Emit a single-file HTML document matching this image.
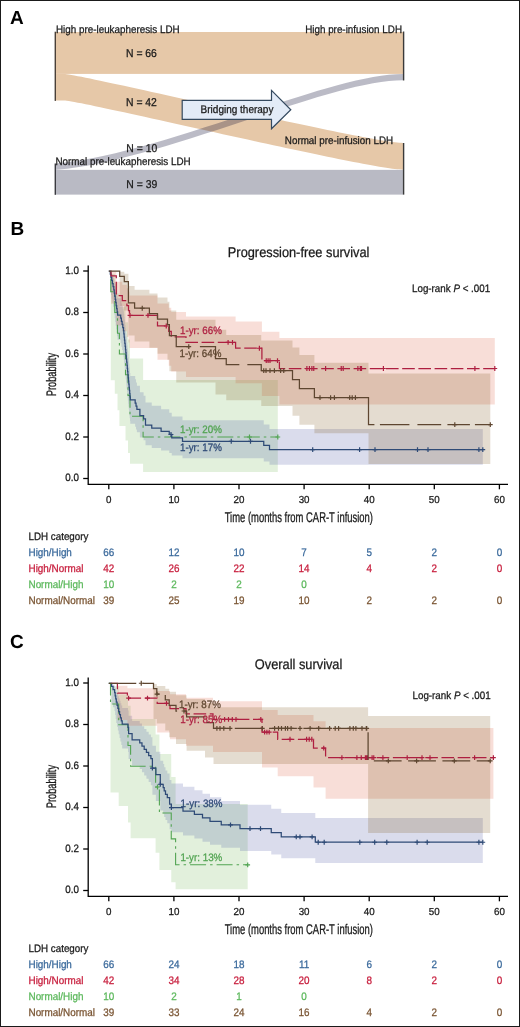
<!DOCTYPE html>
<html><head><meta charset="utf-8"><style>
html,body{margin:0;padding:0;background:#fff;}
body{width:520px;height:1027px;overflow:hidden;}
svg{display:block;will-change:transform;}
text{font-family:"Liberation Sans",sans-serif;text-rendering:geometricPrecision;}
</style></head><body>
<svg width="520" height="1027" viewBox="0 0 520 1027">
<rect x="0" y="0" width="520" height="1027" fill="#fff"/>
<rect x="56" y="32.0" width="347" height="41.91" fill="#e6c8a8"/>
<path d="M56,73.91 L64,73.91 C81,73.91 369,143.0 403,143.0 L403,169.67 C369,169.67 81,100.58 64,100.58 L56,100.58 Z" fill="#e6c8a8"/>
<rect x="56" y="169.85" width="347" height="24.77" fill="#b9bac4"/>
<path d="M56,163.50 C168,152.90 328,73.91 403,73.91 L403,80.26 C328,80.26 168,159.25 56,169.85 Z" fill="rgb(9,12,51)" fill-opacity="0.28"/>
<path d="M182.2,100.3 L271.5,100.3 L271.5,90.4 L290.8,109.8 L271.5,128.8 L271.5,119.4 L182.2,119.4 Z" fill="#e3ebf7" stroke="#34495f" stroke-width="1.2"/>
<text transform="translate(200.60,112.80) scale(1.0,1.1)" font-size="10" fill="#1a1a1a" stroke="#1a1a1a" stroke-width="0.25">Bridging therapy</text>
<rect x="54.6" y="31.7" width="1.4" height="69.18" fill="#4a4038"/>
<rect x="54.6" y="163.50" width="1.4" height="31.32" fill="#3a3a40"/>
<rect x="402.9" y="31.5" width="1.4" height="48.96" fill="#3a3a3a"/>
<rect x="402.9" y="143.00" width="1.4" height="51.64" fill="#3a3a3a"/>
<text transform="translate(56.00,32.60) scale(1.0,1.1)" font-size="9.85" fill="#1a1a1a" stroke="#1a1a1a" stroke-width="0.25">High pre-leukapheresis LDH</text>
<text transform="translate(402.00,33.00) scale(1.0,1.1)" font-size="9.85" fill="#1a1a1a" text-anchor="end" stroke="#1a1a1a" stroke-width="0.25">High pre-infusion LDH</text>
<text transform="translate(284.80,143.80) scale(1.0,1.1)" font-size="9.85" fill="#1a1a1a" stroke="#1a1a1a" stroke-width="0.25">Normal pre-infusion LDH</text>
<text transform="translate(55.50,164.60) scale(1.0,1.1)" font-size="9.85" fill="#1a1a1a" stroke="#1a1a1a" stroke-width="0.25">Normal pre-leukapheresis LDH</text>
<text transform="translate(126.00,56.60) scale(1.0,1.1)" font-size="10.4" fill="#1a1a1a" stroke="#1a1a1a" stroke-width="0.25">N = 66</text>
<text transform="translate(126.00,106.30) scale(1.0,1.1)" font-size="10.4" fill="#1a1a1a" stroke="#1a1a1a" stroke-width="0.25">N = 42</text>
<text transform="translate(126.30,151.80) scale(1.0,1.1)" font-size="10.4" fill="#1a1a1a" stroke="#1a1a1a" stroke-width="0.25">N = 10</text>
<text transform="translate(126.30,187.50) scale(1.0,1.1)" font-size="10.4" fill="#1a1a1a" stroke="#1a1a1a" stroke-width="0.25">N = 39</text>
<text transform="translate(10.00,24.00)" font-size="19" fill="#000" font-weight="bold">A</text>
<text transform="translate(10.40,235.00)" font-size="19" fill="#000" font-weight="bold">B</text>
<text transform="translate(10.00,648.00)" font-size="19" fill="#000" font-weight="bold">C</text>
<g><path d="M88.2,265.4 L88.2,484.3 L508,484.3" fill="none" stroke="#000" stroke-width="1.3"/><line x1="83.2" y1="478.50" x2="88.2" y2="478.50" stroke="#000" stroke-width="1.3"/><text transform="translate(78.90,481.35) scale(1.0,1.1)" font-size="9.8" fill="#1a1a1a" text-anchor="end" stroke="#1a1a1a" stroke-width="0.25">0.0</text><line x1="83.2" y1="437.00" x2="88.2" y2="437.00" stroke="#000" stroke-width="1.3"/><text transform="translate(78.90,439.85) scale(1.0,1.1)" font-size="9.8" fill="#1a1a1a" text-anchor="end" stroke="#1a1a1a" stroke-width="0.25">0.2</text><line x1="83.2" y1="395.50" x2="88.2" y2="395.50" stroke="#000" stroke-width="1.3"/><text transform="translate(78.90,398.35) scale(1.0,1.1)" font-size="9.8" fill="#1a1a1a" text-anchor="end" stroke="#1a1a1a" stroke-width="0.25">0.4</text><line x1="83.2" y1="354.00" x2="88.2" y2="354.00" stroke="#000" stroke-width="1.3"/><text transform="translate(78.90,356.85) scale(1.0,1.1)" font-size="9.8" fill="#1a1a1a" text-anchor="end" stroke="#1a1a1a" stroke-width="0.25">0.6</text><line x1="83.2" y1="312.50" x2="88.2" y2="312.50" stroke="#000" stroke-width="1.3"/><text transform="translate(78.90,315.35) scale(1.0,1.1)" font-size="9.8" fill="#1a1a1a" text-anchor="end" stroke="#1a1a1a" stroke-width="0.25">0.8</text><line x1="83.2" y1="271.00" x2="88.2" y2="271.00" stroke="#000" stroke-width="1.3"/><text transform="translate(78.90,273.85) scale(1.0,1.1)" font-size="9.8" fill="#1a1a1a" text-anchor="end" stroke="#1a1a1a" stroke-width="0.25">1.0</text><line x1="108.80" y1="484.3" x2="108.80" y2="489.3" stroke="#000" stroke-width="1.3"/><text transform="translate(108.80,503.40) scale(1.0,1.03)" font-size="9.8" fill="#1a1a1a" text-anchor="middle" stroke="#1a1a1a" stroke-width="0.25">0</text><line x1="173.90" y1="484.3" x2="173.90" y2="489.3" stroke="#000" stroke-width="1.3"/><text transform="translate(173.90,503.40) scale(1.0,1.03)" font-size="9.8" fill="#1a1a1a" text-anchor="middle" stroke="#1a1a1a" stroke-width="0.25">10</text><line x1="239.00" y1="484.3" x2="239.00" y2="489.3" stroke="#000" stroke-width="1.3"/><text transform="translate(239.00,503.40) scale(1.0,1.03)" font-size="9.8" fill="#1a1a1a" text-anchor="middle" stroke="#1a1a1a" stroke-width="0.25">20</text><line x1="304.10" y1="484.3" x2="304.10" y2="489.3" stroke="#000" stroke-width="1.3"/><text transform="translate(304.10,503.40) scale(1.0,1.03)" font-size="9.8" fill="#1a1a1a" text-anchor="middle" stroke="#1a1a1a" stroke-width="0.25">30</text><line x1="369.20" y1="484.3" x2="369.20" y2="489.3" stroke="#000" stroke-width="1.3"/><text transform="translate(369.20,503.40) scale(1.0,1.03)" font-size="9.8" fill="#1a1a1a" text-anchor="middle" stroke="#1a1a1a" stroke-width="0.25">40</text><line x1="434.30" y1="484.3" x2="434.30" y2="489.3" stroke="#000" stroke-width="1.3"/><text transform="translate(434.30,503.40) scale(1.0,1.03)" font-size="9.8" fill="#1a1a1a" text-anchor="middle" stroke="#1a1a1a" stroke-width="0.25">50</text><line x1="499.40" y1="484.3" x2="499.40" y2="489.3" stroke="#000" stroke-width="1.3"/><text transform="translate(499.40,503.40) scale(1.0,1.03)" font-size="9.8" fill="#1a1a1a" text-anchor="middle" stroke="#1a1a1a" stroke-width="0.25">60</text><text transform="translate(298.60,256.60) scale(1.0,1.1)" font-size="12.8" fill="#1a1a1a" text-anchor="middle" stroke="#1a1a1a" stroke-width="0.25">Progression-free survival</text><text transform="translate(298.80,521.60) scale(0.669,1.0)" font-size="14.1" fill="#1a1a1a" text-anchor="middle" stroke="#1a1a1a" stroke-width="0.3">Time (months from CAR-T infusion)</text><text transform="translate(56.00,374.60) rotate(-90) scale(0.672,1.0)" font-size="13.8" fill="#1a1a1a" text-anchor="middle" stroke="#1a1a1a" stroke-width="0.3">Probability</text><text transform="translate(28.50,539.60) scale(1.0,1.1)" font-size="9.8" fill="#1a1a1a" stroke="#1a1a1a" stroke-width="0.25">LDH category</text><text transform="translate(28.50,555.70) scale(1.0,1.1)" font-size="9.9" fill="#3b6a9c" stroke="#3b6a9c" stroke-width="0.25">High/High</text><text transform="translate(108.80,555.70) scale(1.0,1.1)" font-size="9.9" fill="#3b6a9c" text-anchor="middle" stroke="#3b6a9c" stroke-width="0.25">66</text><text transform="translate(173.90,555.70) scale(1.0,1.1)" font-size="9.9" fill="#3b6a9c" text-anchor="middle" stroke="#3b6a9c" stroke-width="0.25">12</text><text transform="translate(239.00,555.70) scale(1.0,1.1)" font-size="9.9" fill="#3b6a9c" text-anchor="middle" stroke="#3b6a9c" stroke-width="0.25">10</text><text transform="translate(304.10,555.70) scale(1.0,1.1)" font-size="9.9" fill="#3b6a9c" text-anchor="middle" stroke="#3b6a9c" stroke-width="0.25">7</text><text transform="translate(369.20,555.70) scale(1.0,1.1)" font-size="9.9" fill="#3b6a9c" text-anchor="middle" stroke="#3b6a9c" stroke-width="0.25">5</text><text transform="translate(434.30,555.70) scale(1.0,1.1)" font-size="9.9" fill="#3b6a9c" text-anchor="middle" stroke="#3b6a9c" stroke-width="0.25">2</text><text transform="translate(499.40,555.70) scale(1.0,1.1)" font-size="9.9" fill="#3b6a9c" text-anchor="middle" stroke="#3b6a9c" stroke-width="0.25">0</text><text transform="translate(28.50,571.90) scale(1.0,1.1)" font-size="9.9" fill="#c8203f" stroke="#c8203f" stroke-width="0.25">High/Normal</text><text transform="translate(108.80,571.90) scale(1.0,1.1)" font-size="9.9" fill="#c8203f" text-anchor="middle" stroke="#c8203f" stroke-width="0.25">42</text><text transform="translate(173.90,571.90) scale(1.0,1.1)" font-size="9.9" fill="#c8203f" text-anchor="middle" stroke="#c8203f" stroke-width="0.25">26</text><text transform="translate(239.00,571.90) scale(1.0,1.1)" font-size="9.9" fill="#c8203f" text-anchor="middle" stroke="#c8203f" stroke-width="0.25">22</text><text transform="translate(304.10,571.90) scale(1.0,1.1)" font-size="9.9" fill="#c8203f" text-anchor="middle" stroke="#c8203f" stroke-width="0.25">14</text><text transform="translate(369.20,571.90) scale(1.0,1.1)" font-size="9.9" fill="#c8203f" text-anchor="middle" stroke="#c8203f" stroke-width="0.25">4</text><text transform="translate(434.30,571.90) scale(1.0,1.1)" font-size="9.9" fill="#c8203f" text-anchor="middle" stroke="#c8203f" stroke-width="0.25">2</text><text transform="translate(499.40,571.90) scale(1.0,1.1)" font-size="9.9" fill="#c8203f" text-anchor="middle" stroke="#c8203f" stroke-width="0.25">0</text><text transform="translate(28.50,588.10) scale(1.0,1.1)" font-size="9.9" fill="#5cb85c" stroke="#5cb85c" stroke-width="0.25">Normal/High</text><text transform="translate(108.80,588.10) scale(1.0,1.1)" font-size="9.9" fill="#5cb85c" text-anchor="middle" stroke="#5cb85c" stroke-width="0.25">10</text><text transform="translate(173.90,588.10) scale(1.0,1.1)" font-size="9.9" fill="#5cb85c" text-anchor="middle" stroke="#5cb85c" stroke-width="0.25">2</text><text transform="translate(239.00,588.10) scale(1.0,1.1)" font-size="9.9" fill="#5cb85c" text-anchor="middle" stroke="#5cb85c" stroke-width="0.25">2</text><text transform="translate(304.10,588.10) scale(1.0,1.1)" font-size="9.9" fill="#5cb85c" text-anchor="middle" stroke="#5cb85c" stroke-width="0.25">0</text><text transform="translate(28.50,604.30) scale(1.0,1.1)" font-size="9.9" fill="#7a5533" stroke="#7a5533" stroke-width="0.25">Normal/Normal</text><text transform="translate(108.80,604.30) scale(1.0,1.1)" font-size="9.9" fill="#7a5533" text-anchor="middle" stroke="#7a5533" stroke-width="0.25">39</text><text transform="translate(173.90,604.30) scale(1.0,1.1)" font-size="9.9" fill="#7a5533" text-anchor="middle" stroke="#7a5533" stroke-width="0.25">25</text><text transform="translate(239.00,604.30) scale(1.0,1.1)" font-size="9.9" fill="#7a5533" text-anchor="middle" stroke="#7a5533" stroke-width="0.25">19</text><text transform="translate(304.10,604.30) scale(1.0,1.1)" font-size="9.9" fill="#7a5533" text-anchor="middle" stroke="#7a5533" stroke-width="0.25">10</text><text transform="translate(369.20,604.30) scale(1.0,1.1)" font-size="9.9" fill="#7a5533" text-anchor="middle" stroke="#7a5533" stroke-width="0.25">2</text><text transform="translate(434.30,604.30) scale(1.0,1.1)" font-size="9.9" fill="#7a5533" text-anchor="middle" stroke="#7a5533" stroke-width="0.25">2</text><text transform="translate(499.40,604.30) scale(1.0,1.1)" font-size="9.9" fill="#7a5533" text-anchor="middle" stroke="#7a5533" stroke-width="0.25">0</text></g>
<g><path d="M88.2,677.4 L88.2,896.3 L508,896.3" fill="none" stroke="#000" stroke-width="1.3"/><line x1="83.2" y1="890.50" x2="88.2" y2="890.50" stroke="#000" stroke-width="1.3"/><text transform="translate(78.90,893.35) scale(1.0,1.1)" font-size="9.8" fill="#1a1a1a" text-anchor="end" stroke="#1a1a1a" stroke-width="0.25">0.0</text><line x1="83.2" y1="849.00" x2="88.2" y2="849.00" stroke="#000" stroke-width="1.3"/><text transform="translate(78.90,851.85) scale(1.0,1.1)" font-size="9.8" fill="#1a1a1a" text-anchor="end" stroke="#1a1a1a" stroke-width="0.25">0.2</text><line x1="83.2" y1="807.50" x2="88.2" y2="807.50" stroke="#000" stroke-width="1.3"/><text transform="translate(78.90,810.35) scale(1.0,1.1)" font-size="9.8" fill="#1a1a1a" text-anchor="end" stroke="#1a1a1a" stroke-width="0.25">0.4</text><line x1="83.2" y1="766.00" x2="88.2" y2="766.00" stroke="#000" stroke-width="1.3"/><text transform="translate(78.90,768.85) scale(1.0,1.1)" font-size="9.8" fill="#1a1a1a" text-anchor="end" stroke="#1a1a1a" stroke-width="0.25">0.6</text><line x1="83.2" y1="724.50" x2="88.2" y2="724.50" stroke="#000" stroke-width="1.3"/><text transform="translate(78.90,727.35) scale(1.0,1.1)" font-size="9.8" fill="#1a1a1a" text-anchor="end" stroke="#1a1a1a" stroke-width="0.25">0.8</text><line x1="83.2" y1="683.00" x2="88.2" y2="683.00" stroke="#000" stroke-width="1.3"/><text transform="translate(78.90,685.85) scale(1.0,1.1)" font-size="9.8" fill="#1a1a1a" text-anchor="end" stroke="#1a1a1a" stroke-width="0.25">1.0</text><line x1="108.80" y1="896.3" x2="108.80" y2="901.3" stroke="#000" stroke-width="1.3"/><text transform="translate(108.80,915.40) scale(1.0,1.03)" font-size="9.8" fill="#1a1a1a" text-anchor="middle" stroke="#1a1a1a" stroke-width="0.25">0</text><line x1="173.90" y1="896.3" x2="173.90" y2="901.3" stroke="#000" stroke-width="1.3"/><text transform="translate(173.90,915.40) scale(1.0,1.03)" font-size="9.8" fill="#1a1a1a" text-anchor="middle" stroke="#1a1a1a" stroke-width="0.25">10</text><line x1="239.00" y1="896.3" x2="239.00" y2="901.3" stroke="#000" stroke-width="1.3"/><text transform="translate(239.00,915.40) scale(1.0,1.03)" font-size="9.8" fill="#1a1a1a" text-anchor="middle" stroke="#1a1a1a" stroke-width="0.25">20</text><line x1="304.10" y1="896.3" x2="304.10" y2="901.3" stroke="#000" stroke-width="1.3"/><text transform="translate(304.10,915.40) scale(1.0,1.03)" font-size="9.8" fill="#1a1a1a" text-anchor="middle" stroke="#1a1a1a" stroke-width="0.25">30</text><line x1="369.20" y1="896.3" x2="369.20" y2="901.3" stroke="#000" stroke-width="1.3"/><text transform="translate(369.20,915.40) scale(1.0,1.03)" font-size="9.8" fill="#1a1a1a" text-anchor="middle" stroke="#1a1a1a" stroke-width="0.25">40</text><line x1="434.30" y1="896.3" x2="434.30" y2="901.3" stroke="#000" stroke-width="1.3"/><text transform="translate(434.30,915.40) scale(1.0,1.03)" font-size="9.8" fill="#1a1a1a" text-anchor="middle" stroke="#1a1a1a" stroke-width="0.25">50</text><line x1="499.40" y1="896.3" x2="499.40" y2="901.3" stroke="#000" stroke-width="1.3"/><text transform="translate(499.40,915.40) scale(1.0,1.03)" font-size="9.8" fill="#1a1a1a" text-anchor="middle" stroke="#1a1a1a" stroke-width="0.25">60</text><text transform="translate(298.60,668.60) scale(1.0,1.1)" font-size="12.8" fill="#1a1a1a" text-anchor="middle" stroke="#1a1a1a" stroke-width="0.25">Overall survival</text><text transform="translate(298.80,933.60) scale(0.669,1.0)" font-size="14.1" fill="#1a1a1a" text-anchor="middle" stroke="#1a1a1a" stroke-width="0.3">Time (months from CAR-T infusion)</text><text transform="translate(56.00,786.60) rotate(-90) scale(0.672,1.0)" font-size="13.8" fill="#1a1a1a" text-anchor="middle" stroke="#1a1a1a" stroke-width="0.3">Probability</text><text transform="translate(28.50,951.60) scale(1.0,1.1)" font-size="9.8" fill="#1a1a1a" stroke="#1a1a1a" stroke-width="0.25">LDH category</text><text transform="translate(28.50,967.70) scale(1.0,1.1)" font-size="9.9" fill="#3b6a9c" stroke="#3b6a9c" stroke-width="0.25">High/High</text><text transform="translate(108.80,967.70) scale(1.0,1.1)" font-size="9.9" fill="#3b6a9c" text-anchor="middle" stroke="#3b6a9c" stroke-width="0.25">66</text><text transform="translate(173.90,967.70) scale(1.0,1.1)" font-size="9.9" fill="#3b6a9c" text-anchor="middle" stroke="#3b6a9c" stroke-width="0.25">24</text><text transform="translate(239.00,967.70) scale(1.0,1.1)" font-size="9.9" fill="#3b6a9c" text-anchor="middle" stroke="#3b6a9c" stroke-width="0.25">18</text><text transform="translate(304.10,967.70) scale(1.0,1.1)" font-size="9.9" fill="#3b6a9c" text-anchor="middle" stroke="#3b6a9c" stroke-width="0.25">11</text><text transform="translate(369.20,967.70) scale(1.0,1.1)" font-size="9.9" fill="#3b6a9c" text-anchor="middle" stroke="#3b6a9c" stroke-width="0.25">6</text><text transform="translate(434.30,967.70) scale(1.0,1.1)" font-size="9.9" fill="#3b6a9c" text-anchor="middle" stroke="#3b6a9c" stroke-width="0.25">2</text><text transform="translate(499.40,967.70) scale(1.0,1.1)" font-size="9.9" fill="#3b6a9c" text-anchor="middle" stroke="#3b6a9c" stroke-width="0.25">0</text><text transform="translate(28.50,983.90) scale(1.0,1.1)" font-size="9.9" fill="#c8203f" stroke="#c8203f" stroke-width="0.25">High/Normal</text><text transform="translate(108.80,983.90) scale(1.0,1.1)" font-size="9.9" fill="#c8203f" text-anchor="middle" stroke="#c8203f" stroke-width="0.25">42</text><text transform="translate(173.90,983.90) scale(1.0,1.1)" font-size="9.9" fill="#c8203f" text-anchor="middle" stroke="#c8203f" stroke-width="0.25">34</text><text transform="translate(239.00,983.90) scale(1.0,1.1)" font-size="9.9" fill="#c8203f" text-anchor="middle" stroke="#c8203f" stroke-width="0.25">28</text><text transform="translate(304.10,983.90) scale(1.0,1.1)" font-size="9.9" fill="#c8203f" text-anchor="middle" stroke="#c8203f" stroke-width="0.25">20</text><text transform="translate(369.20,983.90) scale(1.0,1.1)" font-size="9.9" fill="#c8203f" text-anchor="middle" stroke="#c8203f" stroke-width="0.25">8</text><text transform="translate(434.30,983.90) scale(1.0,1.1)" font-size="9.9" fill="#c8203f" text-anchor="middle" stroke="#c8203f" stroke-width="0.25">2</text><text transform="translate(499.40,983.90) scale(1.0,1.1)" font-size="9.9" fill="#c8203f" text-anchor="middle" stroke="#c8203f" stroke-width="0.25">0</text><text transform="translate(28.50,1000.10) scale(1.0,1.1)" font-size="9.9" fill="#5cb85c" stroke="#5cb85c" stroke-width="0.25">Normal/High</text><text transform="translate(108.80,1000.10) scale(1.0,1.1)" font-size="9.9" fill="#5cb85c" text-anchor="middle" stroke="#5cb85c" stroke-width="0.25">10</text><text transform="translate(173.90,1000.10) scale(1.0,1.1)" font-size="9.9" fill="#5cb85c" text-anchor="middle" stroke="#5cb85c" stroke-width="0.25">2</text><text transform="translate(239.00,1000.10) scale(1.0,1.1)" font-size="9.9" fill="#5cb85c" text-anchor="middle" stroke="#5cb85c" stroke-width="0.25">1</text><text transform="translate(304.10,1000.10) scale(1.0,1.1)" font-size="9.9" fill="#5cb85c" text-anchor="middle" stroke="#5cb85c" stroke-width="0.25">0</text><text transform="translate(28.50,1016.30) scale(1.0,1.1)" font-size="9.9" fill="#7a5533" stroke="#7a5533" stroke-width="0.25">Normal/Normal</text><text transform="translate(108.80,1016.30) scale(1.0,1.1)" font-size="9.9" fill="#7a5533" text-anchor="middle" stroke="#7a5533" stroke-width="0.25">39</text><text transform="translate(173.90,1016.30) scale(1.0,1.1)" font-size="9.9" fill="#7a5533" text-anchor="middle" stroke="#7a5533" stroke-width="0.25">33</text><text transform="translate(239.00,1016.30) scale(1.0,1.1)" font-size="9.9" fill="#7a5533" text-anchor="middle" stroke="#7a5533" stroke-width="0.25">24</text><text transform="translate(304.10,1016.30) scale(1.0,1.1)" font-size="9.9" fill="#7a5533" text-anchor="middle" stroke="#7a5533" stroke-width="0.25">16</text><text transform="translate(369.20,1016.30) scale(1.0,1.1)" font-size="9.9" fill="#7a5533" text-anchor="middle" stroke="#7a5533" stroke-width="0.25">4</text><text transform="translate(434.30,1016.30) scale(1.0,1.1)" font-size="9.9" fill="#7a5533" text-anchor="middle" stroke="#7a5533" stroke-width="0.25">2</text><text transform="translate(499.40,1016.30) scale(1.0,1.1)" font-size="9.9" fill="#7a5533" text-anchor="middle" stroke="#7a5533" stroke-width="0.25">0</text></g>
<g><path d="M108.80,271.00 L110.80,271.00 L110.80,274.05 L114.80,274.05 L114.80,282.23 L117.50,282.23 L117.50,293.42 L119.40,293.42 L119.40,306.85 L125.50,306.85 L125.50,322.22 L128.00,322.22 L128.00,339.43 L130.00,339.43 L130.00,358.59 L143.10,358.59 L143.10,380.00 L249.50,380.00 L249.50,380.00 L277.80,380.00 L277.80,380.00 L277.80,380.00 L277.80,472.09 L277.80,472.09 L277.80,472.09 L249.50,472.09 L249.50,472.09 L143.10,472.09 L143.10,463.74 L130.00,463.74 L130.00,453.04 L128.00,453.04 L128.00,440.40 L125.50,440.40 L125.50,426.07 L119.40,426.07 L119.40,410.29 L117.50,410.29 L117.50,393.70 L114.80,393.70 L114.80,380.35 L110.80,380.35 L110.80,271.00 L108.80,271.00Z" fill="rgb(110,180,80)" fill-opacity="0.2"/><path d="M108.80,271.00 L110.30,271.00 L110.30,271.45 L111.00,271.45 L111.00,272.59 L111.70,272.59 L111.70,274.09 L112.40,274.09 L112.40,275.81 L113.10,275.81 L113.10,277.69 L113.80,277.69 L113.80,279.69 L114.27,279.69 L114.27,281.80 L114.75,281.80 L114.75,283.98 L115.22,283.98 L115.22,286.23 L115.70,286.23 L115.70,288.54 L116.17,288.54 L116.17,290.91 L116.65,290.91 L116.65,293.33 L117.12,293.33 L117.12,295.79 L117.60,295.79 L117.60,298.29 L120.70,298.29 L120.70,300.83 L121.40,300.83 L121.40,303.41 L122.10,303.41 L122.10,306.02 L122.80,306.02 L122.80,308.66 L123.50,308.66 L123.50,311.32 L123.83,311.32 L123.83,314.02 L124.17,314.02 L124.17,316.75 L124.50,316.75 L124.50,319.50 L124.83,319.50 L124.83,322.27 L125.17,322.27 L125.17,325.07 L125.50,325.07 L125.50,327.90 L125.80,327.90 L125.80,330.75 L126.10,330.75 L126.10,333.62 L126.40,333.62 L126.40,336.51 L126.70,336.51 L126.70,339.43 L127.00,339.43 L127.00,342.36 L127.30,342.36 L127.30,345.32 L127.60,345.32 L127.60,348.30 L127.90,348.30 L127.90,351.30 L128.20,351.30 L128.20,354.33 L128.50,354.33 L128.50,357.37 L128.80,357.37 L128.80,360.44 L129.10,360.44 L129.10,363.52 L129.40,363.52 L129.40,366.63 L129.70,366.63 L129.70,369.76 L130.00,369.76 L130.00,372.92 L130.30,372.92 L130.30,376.09 L135.17,376.09 L135.17,379.29 L136.03,379.29 L136.03,382.51 L136.90,382.51 L136.90,385.76 L139.90,385.76 L139.90,392.33 L143.60,392.33 L143.60,395.65 L145.50,395.65 L145.50,402.39 L151.75,402.39 L151.75,405.80 L161.10,405.80 L161.10,409.24 L169.25,409.24 L169.25,412.72 L171.00,412.72 L171.00,412.72 L171.75,412.72 L171.75,416.43 L182.50,416.43 L182.50,420.19 L231.25,420.19 L231.25,420.19 L250.50,420.19 L250.50,420.19 L263.75,420.19 L263.75,424.52 L269.50,424.52 L269.50,428.98 L312.70,428.98 L312.70,428.98 L359.60,428.98 L359.60,428.98 L375.00,428.98 L375.00,428.98 L417.50,428.98 L417.50,428.98 L428.00,428.98 L428.00,428.98 L478.90,428.98 L478.90,428.98 L482.80,428.98 L482.80,428.98 L482.80,428.98 L482.80,464.64 L482.80,464.64 L482.80,464.64 L478.90,464.64 L478.90,464.64 L428.00,464.64 L428.00,464.64 L417.50,464.64 L417.50,464.64 L375.00,464.64 L375.00,464.64 L359.60,464.64 L359.60,464.64 L312.70,464.64 L312.70,464.64 L269.50,464.64 L269.50,461.50 L263.75,461.50 L263.75,458.20 L250.50,458.20 L250.50,458.20 L231.25,458.20 L231.25,458.20 L182.50,458.20 L182.50,455.58 L171.75,455.58 L171.75,452.91 L171.00,452.91 L171.00,452.91 L169.25,452.91 L169.25,450.43 L161.10,450.43 L161.10,447.92 L151.75,447.92 L151.75,445.37 L145.50,445.37 L145.50,440.17 L143.60,440.17 L143.60,437.52 L139.90,437.52 L139.90,432.14 L136.90,432.14 L136.90,429.41 L136.03,429.41 L136.03,426.65 L135.17,426.65 L135.17,423.87 L130.30,423.87 L130.30,421.06 L130.00,421.06 L130.00,418.23 L129.70,418.23 L129.70,415.38 L129.40,415.38 L129.40,412.50 L129.10,412.50 L129.10,409.60 L128.80,409.60 L128.80,406.67 L128.50,406.67 L128.50,403.73 L128.20,403.73 L128.20,400.76 L127.90,400.76 L127.90,397.76 L127.60,397.76 L127.60,394.75 L127.30,394.75 L127.30,391.72 L127.00,391.72 L127.00,388.66 L126.70,388.66 L126.70,385.58 L126.40,385.58 L126.40,382.47 L126.10,382.47 L126.10,379.35 L125.80,379.35 L125.80,376.20 L125.50,376.20 L125.50,373.02 L125.17,373.02 L125.17,369.83 L124.83,369.83 L124.83,366.60 L124.50,366.60 L124.50,363.36 L124.17,363.36 L124.17,360.08 L123.83,360.08 L123.83,356.78 L123.50,356.78 L123.50,353.45 L122.80,353.45 L122.80,350.09 L122.10,350.09 L122.10,346.71 L121.40,346.71 L121.40,343.29 L120.70,343.29 L120.70,339.83 L117.60,339.83 L117.60,336.34 L117.12,336.34 L117.12,332.82 L116.65,332.82 L116.65,329.25 L116.17,329.25 L116.17,325.64 L115.70,325.64 L115.70,321.98 L115.22,321.98 L115.22,318.27 L114.75,318.27 L114.75,314.50 L114.27,314.50 L114.27,310.68 L113.80,310.68 L113.80,306.79 L113.10,306.79 L113.10,302.84 L112.40,302.84 L112.40,298.87 L111.70,298.87 L111.70,295.02 L111.00,295.02 L111.00,292.31 L110.30,292.31 L110.30,271.00 L108.80,271.00Z" fill="rgb(70,80,160)" fill-opacity="0.2"/><path d="M108.80,271.00 L111.00,271.00 L111.00,271.70 L116.30,271.70 L116.30,281.66 L122.30,281.66 L122.30,284.87 L126.90,284.87 L126.90,288.26 L128.50,288.26 L128.50,291.78 L129.50,291.78 L129.50,295.43 L130.00,295.43 L130.00,295.43 L148.00,295.43 L148.00,295.43 L157.50,295.43 L157.50,303.42 L166.25,303.42 L166.25,303.42 L168.75,303.42 L168.75,307.69 L171.25,307.69 L171.25,312.06 L186.00,312.06 L186.00,316.53 L228.10,316.53 L228.10,316.53 L232.50,316.53 L232.50,316.53 L235.60,316.53 L235.60,321.39 L259.40,321.39 L259.40,321.39 L261.90,321.39 L261.90,331.78 L266.25,331.78 L266.25,331.78 L268.10,331.78 L268.10,331.78 L270.00,331.78 L270.00,331.78 L277.50,331.78 L277.50,331.78 L279.40,331.78 L279.40,338.08 L306.90,338.08 L306.90,338.08 L309.40,338.08 L309.40,338.08 L311.90,338.08 L311.90,338.08 L313.75,338.08 L313.75,338.08 L325.60,338.08 L325.60,338.08 L341.25,338.08 L341.25,338.08 L343.20,338.08 L343.20,338.08 L357.90,338.08 L357.90,338.08 L360.30,338.08 L360.30,338.08 L361.50,338.08 L361.50,338.08 L383.40,338.08 L383.40,338.08 L474.90,338.08 L474.90,338.08 L494.80,338.08 L494.80,338.08 L494.80,338.08 L494.80,404.55 L494.80,404.55 L494.80,404.55 L474.90,404.55 L474.90,404.55 L383.40,404.55 L383.40,404.55 L361.50,404.55 L361.50,404.55 L360.30,404.55 L360.30,404.55 L357.90,404.55 L357.90,404.55 L343.20,404.55 L343.20,404.55 L341.25,404.55 L341.25,404.55 L325.60,404.55 L325.60,404.55 L313.75,404.55 L313.75,404.55 L311.90,404.55 L311.90,404.55 L309.40,404.55 L309.40,404.55 L306.90,404.55 L306.90,404.55 L279.40,404.55 L279.40,396.08 L277.50,396.08 L277.50,396.08 L270.00,396.08 L270.00,396.08 L268.10,396.08 L268.10,396.08 L266.25,396.08 L266.25,396.08 L261.90,396.08 L261.90,383.33 L259.40,383.33 L259.40,383.33 L235.60,383.33 L235.60,377.10 L232.50,377.10 L232.50,377.10 L228.10,377.10 L228.10,377.10 L186.00,377.10 L186.00,371.43 L171.25,371.43 L171.25,365.64 L168.75,365.64 L168.75,359.72 L166.25,359.72 L166.25,359.72 L157.50,359.72 L157.50,348.06 L148.00,348.06 L148.00,348.06 L130.00,348.06 L130.00,348.06 L129.50,348.06 L129.50,342.58 L128.50,342.58 L128.50,337.00 L126.90,337.00 L126.90,331.31 L122.30,331.31 L122.30,325.50 L116.30,325.50 L116.30,303.63 L111.00,303.63 L111.00,271.00 L108.80,271.00Z" fill="rgb(220,90,60)" fill-opacity="0.2"/><path d="M108.80,271.00 L119.70,271.00 L119.70,271.76 L124.30,271.76 L124.30,273.71 L128.40,273.71 L128.40,285.99 L134.60,285.99 L134.60,289.65 L142.25,289.65 L142.25,289.65 L149.40,289.65 L149.40,293.56 L157.50,293.56 L157.50,297.62 L167.50,297.62 L167.50,301.81 L169.40,301.81 L169.40,310.53 L176.25,310.53 L176.25,319.66 L188.75,319.66 L188.75,319.66 L215.50,319.66 L215.50,329.81 L226.25,329.81 L226.25,335.05 L261.25,335.05 L261.25,340.40 L263.75,340.40 L263.75,340.40 L266.00,340.40 L266.00,340.40 L270.00,340.40 L270.00,340.40 L274.40,340.40 L274.40,340.40 L280.60,340.40 L280.60,340.40 L283.75,340.40 L283.75,340.40 L292.50,340.40 L292.50,347.47 L299.40,347.47 L299.40,354.94 L314.40,354.94 L314.40,362.77 L320.00,362.77 L320.00,362.77 L330.60,362.77 L330.60,362.77 L334.40,362.77 L334.40,362.77 L349.70,362.77 L349.70,362.77 L352.20,362.77 L352.20,362.77 L355.40,362.77 L355.40,362.77 L368.50,362.77 L368.50,373.55 L454.80,373.55 L454.80,373.55 L490.30,373.55 L490.30,373.55 L490.30,373.55 L490.30,464.04 L490.30,464.04 L490.30,464.04 L454.80,464.04 L454.80,464.04 L368.50,464.04 L368.50,433.13 L355.40,433.13 L355.40,433.13 L352.20,433.13 L352.20,433.13 L349.70,433.13 L349.70,433.13 L334.40,433.13 L334.40,433.13 L330.60,433.13 L330.60,433.13 L320.00,433.13 L320.00,433.13 L314.40,433.13 L314.40,424.74 L299.40,424.74 L299.40,415.74 L292.50,415.74 L292.50,406.03 L283.75,406.03 L283.75,406.03 L280.60,406.03 L280.60,406.03 L274.40,406.03 L274.40,406.03 L270.00,406.03 L270.00,406.03 L266.00,406.03 L266.00,406.03 L263.75,406.03 L263.75,406.03 L261.25,406.03 L261.25,400.34 L226.25,400.34 L226.25,394.52 L215.50,394.52 L215.50,382.46 L188.75,382.46 L188.75,382.46 L176.25,382.46 L176.25,371.34 L169.40,371.34 L169.40,359.80 L167.50,359.80 L167.50,353.85 L157.50,353.85 L157.50,347.77 L149.40,347.77 L149.40,341.54 L142.25,341.54 L142.25,341.54 L134.60,341.54 L134.60,335.49 L128.40,335.49 L128.40,310.39 L124.30,310.39 L124.30,305.94 L119.70,305.94 L119.70,271.00 L108.80,271.00Z" fill="rgb(120,80,20)" fill-opacity="0.2"/></g>
<g><path d="M108.8,271.00 H110.80 V291.75 H114.80 V312.50 H117.50 V333.25 H119.40 V354.00 H125.50 V374.75 H128.00 V395.50 H130.00 V416.25 H143.10 V437.00 H249.50 H277.80" fill="none" stroke="#52a452" stroke-width="1.1" stroke-dasharray="16,4,2.5,4" stroke-dashoffset="17"/><path d="M249.50,434.60V439.40M247.10,437.00H251.90M277.80,434.60V439.40M275.40,437.00H280.20" fill="none" stroke="#52a452" stroke-width="1.2"/><path d="M108.8,271.00 H110.30 V274.14 H111.00 V277.29 H111.70 V280.43 H112.40 V283.58 H113.10 V286.72 H113.80 V289.86 H114.27 V293.01 H114.75 V296.15 H115.22 V299.30 H115.70 V302.44 H116.17 V305.58 H116.65 V308.73 H117.12 V311.87 H117.60 V315.02 H120.70 V318.16 H121.40 V321.30 H122.10 V324.45 H122.80 V327.59 H123.50 V330.73 H123.83 V333.88 H124.17 V337.02 H124.50 V340.17 H124.83 V343.31 H125.17 V346.45 H125.50 V349.60 H125.80 V352.74 H126.10 V355.89 H126.40 V359.03 H126.70 V362.17 H127.00 V365.32 H127.30 V368.46 H127.60 V371.61 H127.90 V374.75 H128.20 V377.89 H128.50 V381.04 H128.80 V384.18 H129.10 V387.33 H129.40 V390.47 H129.70 V393.61 H130.00 V396.76 H130.30 V399.90 H135.17 V403.05 H136.03 V406.19 H136.90 V409.33 H139.90 V415.62 H143.60 V418.77 H145.50 V425.05 H151.75 V428.20 H161.10 V431.34 H169.25 V434.48 H171.00 H171.75 V437.87 H182.50 V441.26 H231.25 H250.50 H263.75 V445.39 H269.50 V449.53 H312.70 H359.60 H375.00 H417.50 H428.00 H478.90 H482.80" fill="none" stroke="#2e4a76" stroke-width="1.25"/><path d="M171.00,432.08V436.88M168.60,434.48H173.40M231.25,438.86V443.66M228.85,441.26H233.65M250.50,438.86V443.66M248.10,441.26H252.90M312.70,447.13V451.93M310.30,449.53H315.10M359.60,447.13V451.93M357.20,449.53H362.00M375.00,447.13V451.93M372.60,449.53H377.40M417.50,447.13V451.93M415.10,449.53H419.90M428.00,447.13V451.93M425.60,449.53H430.40M478.90,447.13V451.93M476.50,449.53H481.30M482.80,447.13V451.93M480.40,449.53H485.20" fill="none" stroke="#2e4a76" stroke-width="1.2"/><path d="M108.8,271.00 H111.00 V275.94 H116.30 V295.70 H122.30 V300.64 H126.90 V305.58 H128.50 V310.52 H129.50 V315.46 H130.00 H148.00 H157.50 V325.98 H166.25 H168.75 V331.43 H171.25 V336.88 H186.00 V342.32 H228.10 H232.50 H235.60 V348.24 H259.40 H261.90 V360.65 H266.25 H268.10 H270.00 H277.50 H279.40 V368.51 H306.90 H309.40 H311.90 H313.75 H325.60 H341.25 H343.20 H357.90 H360.30 H361.50 H383.40 H474.90 H494.80" fill="none" stroke="#ae1f40" stroke-width="1.25" stroke-dasharray="12.6,3.6" stroke-dashoffset="14.1"/><path d="M130.00,313.06V317.86M127.60,315.46H132.40M148.00,313.06V317.86M145.60,315.46H150.40M166.25,323.58V328.38M163.85,325.98H168.65M228.10,339.92V344.72M225.70,342.32H230.50M232.50,339.92V344.72M230.10,342.32H234.90M259.40,345.84V350.64M257.00,348.24H261.80M266.25,358.25V363.05M263.85,360.65H268.65M268.10,358.25V363.05M265.70,360.65H270.50M270.00,358.25V363.05M267.60,360.65H272.40M277.50,358.25V363.05M275.10,360.65H279.90M306.90,366.11V370.91M304.50,368.51H309.30M309.40,366.11V370.91M307.00,368.51H311.80M311.90,366.11V370.91M309.50,368.51H314.30M313.75,366.11V370.91M311.35,368.51H316.15M325.60,366.11V370.91M323.20,368.51H328.00M341.25,366.11V370.91M338.85,368.51H343.65M343.20,366.11V370.91M340.80,368.51H345.60M357.90,366.11V370.91M355.50,368.51H360.30M360.30,366.11V370.91M357.90,368.51H362.70M361.50,366.11V370.91M359.10,368.51H363.90M383.40,366.11V370.91M381.00,368.51H385.80M474.90,366.11V370.91M472.50,368.51H477.30M494.80,366.11V370.91M492.40,368.51H497.20" fill="none" stroke="#ae1f40" stroke-width="1.2"/><path d="M108.8,271.00 H119.70 V276.32 H124.30 V281.64 H128.40 V302.92 H134.60 V308.24 H142.25 H149.40 V313.74 H157.50 V319.23 H167.50 V324.72 H169.40 V335.70 H176.25 V346.69 H188.75 H215.50 V358.67 H226.25 V364.66 H261.25 V370.65 H263.75 H266.00 H270.00 H274.40 H280.60 H283.75 H292.50 V379.64 H299.40 V388.63 H314.40 V397.62 H320.00 H330.60 H334.40 H349.70 H352.20 H355.40 H368.50 V424.58 H454.80 H490.30" fill="none" stroke="#5e4630" stroke-width="1.25" stroke-dasharray="156.7,10.1,57.4,8,187,5.5,29.5,8,23.75,6.25,22.5,5,200" stroke-dashoffset="0"/><path d="M142.25,305.84V310.64M139.85,308.24H144.65M188.75,344.29V349.09M186.35,346.69H191.15M263.75,368.25V373.05M261.35,370.65H266.15M266.00,368.25V373.05M263.60,370.65H268.40M270.00,368.25V373.05M267.60,370.65H272.40M274.40,368.25V373.05M272.00,370.65H276.80M280.60,368.25V373.05M278.20,370.65H283.00M283.75,368.25V373.05M281.35,370.65H286.15M320.00,395.22V400.02M317.60,397.62H322.40M330.60,395.22V400.02M328.20,397.62H333.00M334.40,395.22V400.02M332.00,397.62H336.80M349.70,395.22V400.02M347.30,397.62H352.10M352.20,395.22V400.02M349.80,397.62H354.60M355.40,395.22V400.02M353.00,397.62H357.80M454.80,422.18V426.98M452.40,424.58H457.20M490.30,422.18V426.98M487.90,424.58H492.70" fill="none" stroke="#5e4630" stroke-width="1.2"/></g>
<g><path d="M108.80,683.25 L110.50,683.25 L110.50,686.30 L118.70,686.30 L118.70,694.48 L128.00,694.48 L128.00,705.67 L130.60,705.67 L130.60,719.10 L155.60,719.10 L155.60,734.47 L157.50,734.47 L157.50,734.47 L159.40,734.47 L159.40,753.99 L171.25,753.99 L171.25,776.94 L175.60,776.94 L175.60,804.00 L247.70,804.00 L247.70,804.00 L247.70,804.00 L247.70,889.29 L247.70,889.29 L247.70,889.29 L175.60,889.29 L175.60,882.29 L171.25,882.29 L171.25,870.11 L159.40,870.11 L159.40,852.65 L157.50,852.65 L157.50,852.65 L155.60,852.65 L155.60,838.32 L130.60,838.32 L130.60,822.54 L128.00,822.54 L128.00,805.95 L118.70,805.95 L118.70,792.60 L110.50,792.60 L110.50,683.25 L108.80,683.25Z" fill="rgb(110,180,80)" fill-opacity="0.2"/><path d="M108.80,683.25 L111.53,683.25 L111.53,683.70 L113.07,683.70 L113.07,684.84 L114.60,684.84 L114.60,686.34 L115.17,686.34 L115.17,688.06 L115.73,688.06 L115.73,689.94 L116.30,689.94 L116.30,691.94 L117.10,691.94 L117.10,694.05 L117.90,694.05 L117.90,696.23 L118.70,696.23 L118.70,698.48 L119.58,698.48 L119.58,700.79 L120.45,700.79 L120.45,703.16 L121.33,703.16 L121.33,705.58 L122.20,705.58 L122.20,708.04 L128.00,708.04 L128.00,710.54 L128.60,710.54 L128.60,715.66 L132.10,715.66 L132.10,720.91 L139.73,720.91 L139.73,723.57 L141.97,723.57 L141.97,726.27 L144.20,726.27 L144.20,729.00 L146.43,729.00 L146.43,731.75 L148.67,731.75 L148.67,734.52 L150.90,734.52 L150.90,737.32 L152.40,737.32 L152.40,745.87 L155.90,745.87 L155.90,751.80 L160.30,751.80 L160.30,760.87 L163.20,760.87 L163.20,764.02 L164.20,764.02 L164.20,767.19 L165.50,767.19 L165.50,770.38 L167.30,770.38 L167.30,773.60 L169.60,773.60 L169.60,780.12 L171.40,780.12 L171.40,783.42 L183.00,783.42 L183.00,786.85 L194.40,786.85 L194.40,790.31 L202.50,790.31 L202.50,793.81 L210.00,793.81 L210.00,797.33 L221.25,797.33 L221.25,800.89 L230.50,800.89 L230.50,800.89 L240.00,800.89 L240.00,804.63 L250.00,804.63 L250.00,804.63 L260.50,804.63 L260.50,804.63 L271.25,804.63 L271.25,808.76 L281.25,808.76 L281.25,812.96 L296.25,812.96 L296.25,812.96 L300.00,812.96 L300.00,812.96 L312.10,812.96 L312.10,812.96 L315.30,812.96 L315.30,817.98 L318.20,817.98 L318.20,817.98 L324.20,817.98 L324.20,817.98 L359.80,817.98 L359.80,817.98 L374.70,817.98 L374.70,817.98 L386.80,817.98 L386.80,817.98 L417.10,817.98 L417.10,817.98 L427.20,817.98 L427.20,817.98 L478.90,817.98 L478.90,817.98 L482.80,817.98 L482.80,817.98 L482.80,817.98 L482.80,863.10 L482.80,863.10 L482.80,863.10 L478.90,863.10 L478.90,863.10 L427.20,863.10 L427.20,863.10 L417.10,863.10 L417.10,863.10 L386.80,863.10 L386.80,863.10 L374.70,863.10 L374.70,863.10 L359.80,863.10 L359.80,863.10 L324.20,863.10 L324.20,863.10 L318.20,863.10 L318.20,863.10 L315.30,863.10 L315.30,858.18 L312.10,858.18 L312.10,858.18 L300.00,858.18 L300.00,858.18 L296.25,858.18 L296.25,858.18 L281.25,858.18 L281.25,854.60 L271.25,854.60 L271.25,850.93 L260.50,850.93 L260.50,850.93 L250.00,850.93 L250.00,850.93 L240.00,850.93 L240.00,847.75 L230.50,847.75 L230.50,847.75 L221.25,847.75 L221.25,844.74 L210.00,844.74 L210.00,841.69 L202.50,841.69 L202.50,838.60 L194.40,838.60 L194.40,835.48 L183.00,835.48 L183.00,832.32 L171.40,832.32 L171.40,829.29 L169.60,829.29 L169.60,823.14 L167.30,823.14 L167.30,820.03 L165.50,820.03 L165.50,816.88 L164.20,816.88 L164.20,813.71 L163.20,813.71 L163.20,810.51 L160.30,810.51 L160.30,801.11 L155.90,801.11 L155.90,794.72 L152.40,794.72 L152.40,785.27 L150.90,785.27 L150.90,782.08 L148.67,782.08 L148.67,778.85 L146.43,778.85 L146.43,775.61 L144.20,775.61 L144.20,772.33 L141.97,772.33 L141.97,769.03 L139.73,769.03 L139.73,765.70 L132.10,765.70 L132.10,758.96 L128.60,758.96 L128.60,752.08 L128.00,752.08 L128.00,748.59 L122.20,748.59 L122.20,745.07 L121.33,745.07 L121.33,741.50 L120.45,741.50 L120.45,737.89 L119.58,737.89 L119.58,734.23 L118.70,734.23 L118.70,730.52 L117.90,730.52 L117.90,726.75 L117.10,726.75 L117.10,722.93 L116.30,722.93 L116.30,719.04 L115.73,719.04 L115.73,715.09 L115.17,715.09 L115.17,711.12 L114.60,711.12 L114.60,707.27 L113.07,707.27 L113.07,704.56 L111.53,704.56 L111.53,683.25 L108.80,683.25Z" fill="rgb(70,80,160)" fill-opacity="0.2"/><path d="M108.80,683.25 L117.40,683.25 L117.40,685.77 L127.40,685.77 L127.40,688.15 L128.60,688.15 L128.60,688.15 L147.50,688.15 L147.50,688.15 L157.20,688.15 L157.20,691.00 L166.50,691.00 L166.50,691.00 L170.00,691.00 L170.00,694.20 L186.00,694.20 L186.00,697.64 L213.00,697.64 L213.00,701.27 L224.60,701.27 L224.60,701.27 L228.50,701.27 L228.50,701.27 L232.30,701.27 L232.30,701.27 L236.00,701.27 L236.00,701.27 L260.80,701.27 L260.80,701.27 L262.00,701.27 L262.00,710.02 L264.60,710.02 L264.60,710.02 L266.90,710.02 L266.90,710.02 L269.20,710.02 L269.20,710.02 L277.70,710.02 L277.70,715.11 L290.00,715.11 L290.00,715.11 L306.60,715.11 L306.60,715.11 L309.20,715.11 L309.20,715.11 L311.80,715.11 L311.80,715.11 L313.50,715.11 L313.50,721.20 L323.75,721.20 L323.75,721.20 L325.60,721.20 L325.60,727.93 L341.90,727.93 L341.90,727.93 L356.90,727.93 L356.90,727.93 L361.25,727.93 L361.25,727.93 L365.40,727.93 L365.40,727.93 L366.50,727.93 L366.50,727.93 L367.50,727.93 L367.50,727.93 L372.10,727.93 L372.10,727.93 L373.75,727.93 L373.75,727.93 L382.90,727.93 L382.90,727.93 L407.20,727.93 L407.20,727.93 L422.00,727.93 L422.00,727.93 L430.00,727.93 L430.00,727.93 L474.60,727.93 L474.60,727.93 L493.40,727.93 L493.40,727.93 L493.40,727.93 L493.40,798.79 L493.40,798.79 L493.40,798.79 L474.60,798.79 L474.60,798.79 L430.00,798.79 L430.00,798.79 L422.00,798.79 L422.00,798.79 L407.20,798.79 L407.20,798.79 L382.90,798.79 L382.90,798.79 L373.75,798.79 L373.75,798.79 L372.10,798.79 L372.10,798.79 L367.50,798.79 L367.50,798.79 L366.50,798.79 L366.50,798.79 L365.40,798.79 L365.40,798.79 L361.25,798.79 L361.25,798.79 L356.90,798.79 L356.90,798.79 L341.90,798.79 L341.90,798.79 L325.60,798.79 L325.60,787.41 L323.75,787.41 L323.75,787.41 L313.50,787.41 L313.50,776.15 L311.80,776.15 L311.80,776.15 L309.20,776.15 L309.20,776.15 L306.60,776.15 L306.60,776.15 L290.00,776.15 L290.00,776.15 L277.70,776.15 L277.70,767.42 L269.20,767.42 L269.20,767.42 L266.90,767.42 L266.90,767.42 L264.60,767.42 L264.60,767.42 L262.00,767.42 L262.00,751.95 L260.80,751.95 L260.80,751.95 L236.00,751.95 L236.00,751.95 L232.30,751.95 L232.30,751.95 L228.50,751.95 L228.50,751.95 L224.60,751.95 L224.60,751.95 L213.00,751.95 L213.00,745.67 L186.00,745.67 L186.00,739.20 L170.00,739.20 L170.00,732.47 L166.50,732.47 L166.50,732.47 L157.20,732.47 L157.20,725.86 L147.50,725.86 L147.50,725.86 L128.60,725.86 L128.60,725.86 L127.40,725.86 L127.40,720.03 L117.40,720.03 L117.40,683.25 L108.80,683.25Z" fill="rgb(220,90,60)" fill-opacity="0.2"/><path d="M108.80,683.25 L141.25,683.25 L141.25,683.25 L153.50,683.25 L153.50,684.03 L156.80,684.03 L156.80,686.04 L157.00,686.04 L157.00,686.04 L165.30,686.04 L165.30,688.73 L169.20,688.73 L169.20,691.85 L176.00,691.85 L176.00,695.28 L184.00,695.28 L184.00,695.28 L186.60,695.28 L186.60,699.04 L205.00,699.04 L205.00,703.00 L213.50,703.00 L213.50,707.15 L216.90,707.15 L216.90,707.15 L220.00,707.15 L220.00,707.15 L223.80,707.15 L223.80,707.15 L230.00,707.15 L230.00,707.15 L262.30,707.15 L262.30,707.15 L274.60,707.15 L274.60,707.15 L278.50,707.15 L278.50,707.15 L281.50,707.15 L281.50,707.15 L285.40,707.15 L285.40,707.15 L287.60,707.15 L287.60,707.15 L291.10,707.15 L291.10,707.15 L300.00,707.15 L300.00,707.15 L310.10,707.15 L310.10,707.15 L318.70,707.15 L318.70,707.15 L329.60,707.15 L329.60,707.15 L335.20,707.15 L335.20,707.15 L338.60,707.15 L338.60,707.15 L349.90,707.15 L349.90,707.15 L353.30,707.15 L353.30,707.15 L355.90,707.15 L355.90,707.15 L362.00,707.15 L362.00,707.15 L366.30,707.15 L366.30,707.15 L366.70,707.15 L366.70,707.15 L368.10,707.15 L368.10,715.99 L388.30,715.99 L388.30,715.99 L416.60,715.99 L416.60,715.99 L454.30,715.99 L454.30,715.99 L490.20,715.99 L490.20,715.99 L490.20,715.99 L490.20,832.98 L490.20,832.98 L490.20,832.98 L454.30,832.98 L454.30,832.98 L416.60,832.98 L416.60,832.98 L388.30,832.98 L388.30,832.98 L368.10,832.98 L368.10,763.92 L366.70,763.92 L366.70,763.92 L366.30,763.92 L366.30,763.92 L362.00,763.92 L362.00,763.92 L355.90,763.92 L355.90,763.92 L353.30,763.92 L353.30,763.92 L349.90,763.92 L349.90,763.92 L338.60,763.92 L338.60,763.92 L335.20,763.92 L335.20,763.92 L329.60,763.92 L329.60,763.92 L318.70,763.92 L318.70,763.92 L310.10,763.92 L310.10,763.92 L300.00,763.92 L300.00,763.92 L291.10,763.92 L291.10,763.92 L287.60,763.92 L287.60,763.92 L285.40,763.92 L285.40,763.92 L281.50,763.92 L281.50,763.92 L278.50,763.92 L278.50,763.92 L274.60,763.92 L274.60,763.92 L262.30,763.92 L262.30,763.92 L230.00,763.92 L230.00,763.92 L223.80,763.92 L223.80,763.92 L220.00,763.92 L220.00,763.92 L216.90,763.92 L216.90,763.92 L213.50,763.92 L213.50,757.43 L205.00,757.43 L205.00,750.76 L186.60,750.76 L186.60,743.89 L184.00,743.89 L184.00,743.89 L176.00,743.89 L176.00,737.20 L169.20,737.20 L169.20,730.39 L165.30,730.39 L165.30,723.60 L157.00,723.60 L157.00,723.60 L156.80,723.60 L156.80,719.04 L153.50,719.04 L153.50,683.25 L141.25,683.25 L141.25,683.25 L108.80,683.25Z" fill="rgb(120,80,20)" fill-opacity="0.2"/></g>
<g><path d="M108.8,683.25 H110.50 V704.00 H118.70 V724.75 H128.00 V745.50 H130.60 V766.25 H155.60 V787.00 H157.50 H159.40 V812.94 H171.25 V838.88 H175.60 V864.81 H247.70" fill="none" stroke="#52a452" stroke-width="1.1" stroke-dasharray="16,4,2.5,4" stroke-dashoffset="2.15"/><path d="M157.50,784.60V789.40M155.10,787.00H159.90M247.70,862.41V867.21M245.30,864.81H250.10" fill="none" stroke="#52a452" stroke-width="1.2"/><path d="M108.8,683.25 H111.53 V686.39 H113.07 V689.54 H114.60 V692.68 H115.17 V695.83 H115.73 V698.97 H116.30 V702.11 H117.10 V705.26 H117.90 V708.40 H118.70 V711.55 H119.58 V714.69 H120.45 V717.83 H121.33 V720.98 H122.20 V724.12 H128.00 V727.27 H128.60 V733.55 H132.10 V739.84 H139.73 V742.98 H141.97 V746.13 H144.20 V749.27 H146.43 V752.42 H148.67 V755.56 H150.90 V758.70 H152.40 V768.14 H155.90 V774.59 H160.30 V784.27 H163.20 V787.60 H164.20 V790.92 H165.50 V794.25 H167.30 V797.58 H169.60 V804.23 H171.40 V807.56 H183.00 V811.03 H194.40 V814.49 H202.50 V817.96 H210.00 V821.43 H221.25 V824.89 H230.50 H240.00 V828.55 H250.00 H260.50 H271.25 V832.70 H281.25 V836.84 H296.25 H300.00 H312.10 H315.30 V842.24 H318.20 H324.20 H359.80 H374.70 H386.80 H417.10 H427.20 H478.90 H482.80" fill="none" stroke="#2e4a76" stroke-width="1.25"/><path d="M152.40,765.74V770.54M150.00,768.14H154.80M160.30,781.87V786.67M157.90,784.27H162.70M171.40,805.16V809.96M169.00,807.56H173.80M230.50,822.49V827.29M228.10,824.89H232.90M250.00,826.15V830.95M247.60,828.55H252.40M260.50,826.15V830.95M258.10,828.55H262.90M296.25,834.44V839.24M293.85,836.84H298.65M300.00,834.44V839.24M297.60,836.84H302.40M312.10,834.44V839.24M309.70,836.84H314.50M318.20,839.84V844.64M315.80,842.24H320.60M324.20,839.84V844.64M321.80,842.24H326.60M359.80,839.84V844.64M357.40,842.24H362.20M374.70,839.84V844.64M372.30,842.24H377.10M386.80,839.84V844.64M384.40,842.24H389.20M417.10,839.84V844.64M414.70,842.24H419.50M427.20,839.84V844.64M424.80,842.24H429.60M478.90,839.84V844.64M476.50,842.24H481.30M482.80,839.84V844.64M480.40,842.24H485.20" fill="none" stroke="#2e4a76" stroke-width="1.2"/><path d="M108.8,683.25 H117.40 V693.13 H127.40 V698.07 H128.60 H147.50 H157.20 V703.28 H166.50 H170.00 V708.64 H186.00 V713.99 H213.00 V719.35 H224.60 H228.50 H232.30 H236.00 H260.80 H262.00 V732.04 H264.60 H266.90 H269.20 H277.70 V739.26 H290.00 H306.60 H309.20 H311.80 H313.50 V748.17 H323.75 H325.60 V757.67 H341.90 H356.90 H361.25 H365.40 H366.50 H367.50 H372.10 H373.75 H382.90 H407.20 H422.00 H430.00 H474.60 H493.40" fill="none" stroke="#ae1f40" stroke-width="1.25" stroke-dasharray="12.6,3.6" stroke-dashoffset="14.1"/><path d="M128.60,695.67V700.47M126.20,698.07H131.00M147.50,695.67V700.47M145.10,698.07H149.90M166.50,700.88V705.68M164.10,703.28H168.90M224.60,716.95V721.75M222.20,719.35H227.00M228.50,716.95V721.75M226.10,719.35H230.90M232.30,716.95V721.75M229.90,719.35H234.70M236.00,716.95V721.75M233.60,719.35H238.40M260.80,716.95V721.75M258.40,719.35H263.20M264.60,729.64V734.44M262.20,732.04H267.00M266.90,729.64V734.44M264.50,732.04H269.30M269.20,729.64V734.44M266.80,732.04H271.60M290.00,736.86V741.66M287.60,739.26H292.40M306.60,736.86V741.66M304.20,739.26H309.00M309.20,736.86V741.66M306.80,739.26H311.60M311.80,736.86V741.66M309.40,739.26H314.20M323.75,745.77V750.57M321.35,748.17H326.15M341.90,755.27V760.07M339.50,757.67H344.30M356.90,755.27V760.07M354.50,757.67H359.30M361.25,755.27V760.07M358.85,757.67H363.65M365.40,755.27V760.07M363.00,757.67H367.80M366.50,755.27V760.07M364.10,757.67H368.90M367.50,755.27V760.07M365.10,757.67H369.90M372.10,755.27V760.07M369.70,757.67H374.50M373.75,755.27V760.07M371.35,757.67H376.15M382.90,755.27V760.07M380.50,757.67H385.30M407.20,755.27V760.07M404.80,757.67H409.60M422.00,755.27V760.07M419.60,757.67H424.40M430.00,755.27V760.07M427.60,757.67H432.40M474.60,755.27V760.07M472.20,757.67H477.00M493.40,755.27V760.07M491.00,757.67H495.80" fill="none" stroke="#ae1f40" stroke-width="1.2"/><path d="M108.8,683.25 H141.25 H153.50 V688.71 H156.80 V694.17 H157.00 H165.30 V699.79 H169.20 V705.40 H176.00 V711.02 H184.00 H186.60 V716.82 H205.00 V722.62 H213.50 V728.41 H216.90 H220.00 H223.80 H230.00 H262.30 H274.60 H278.50 H281.50 H285.40 H287.60 H291.10 H300.00 H310.10 H318.70 H329.60 H335.20 H338.60 H349.90 H353.30 H355.90 H362.00 H366.30 H366.70 H368.10 V760.88 H388.30 H416.60 H454.30 H490.20" fill="none" stroke="#5e4630" stroke-width="1.25" stroke-dasharray="27.8,6.5" stroke-dashoffset="0.35"/><path d="M141.25,680.85V685.65M138.85,683.25H143.65M157.00,691.77V696.57M154.60,694.17H159.40M184.00,708.62V713.42M181.60,711.02H186.40M216.90,726.01V730.81M214.50,728.41H219.30M220.00,726.01V730.81M217.60,728.41H222.40M223.80,726.01V730.81M221.40,728.41H226.20M230.00,726.01V730.81M227.60,728.41H232.40M262.30,726.01V730.81M259.90,728.41H264.70M274.60,726.01V730.81M272.20,728.41H277.00M278.50,726.01V730.81M276.10,728.41H280.90M281.50,726.01V730.81M279.10,728.41H283.90M285.40,726.01V730.81M283.00,728.41H287.80M287.60,726.01V730.81M285.20,728.41H290.00M291.10,726.01V730.81M288.70,728.41H293.50M300.00,726.01V730.81M297.60,728.41H302.40M310.10,726.01V730.81M307.70,728.41H312.50M318.70,726.01V730.81M316.30,728.41H321.10M329.60,726.01V730.81M327.20,728.41H332.00M335.20,726.01V730.81M332.80,728.41H337.60M338.60,726.01V730.81M336.20,728.41H341.00M349.90,726.01V730.81M347.50,728.41H352.30M353.30,726.01V730.81M350.90,728.41H355.70M355.90,726.01V730.81M353.50,728.41H358.30M362.00,726.01V730.81M359.60,728.41H364.40M366.30,726.01V730.81M363.90,728.41H368.70M366.70,726.01V730.81M364.30,728.41H369.10M388.30,758.48V763.28M385.90,760.88H390.70M416.60,758.48V763.28M414.20,760.88H419.00M454.30,758.48V763.28M451.90,760.88H456.70M490.20,758.48V763.28M487.80,760.88H492.60" fill="none" stroke="#5e4630" stroke-width="1.2"/></g>
<text transform="translate(180.00,334.00) scale(1.0,1.1)" font-size="9.8" fill="#ae1f40" stroke="#ae1f40" stroke-width="0.25">1-yr: 66%</text>
<text transform="translate(179.50,356.50) scale(1.0,1.1)" font-size="9.8" fill="#5e4630" stroke="#5e4630" stroke-width="0.25">1-yr: 64%</text>
<text transform="translate(180.00,433.25) scale(1.0,1.1)" font-size="9.8" fill="#52a452" stroke="#52a452" stroke-width="0.25">1-yr: 20%</text>
<text transform="translate(180.00,451.25) scale(1.0,1.1)" font-size="9.8" fill="#2e4a76" stroke="#2e4a76" stroke-width="0.25">1-yr: 17%</text>
<text transform="translate(179.00,707.50) scale(1.0,1.1)" font-size="9.8" fill="#5e4630" stroke="#5e4630" stroke-width="0.25">1-yr: 87%</text>
<text transform="translate(180.20,722.75) scale(1.0,1.1)" font-size="9.8" fill="#ae1f40" stroke="#ae1f40" stroke-width="0.25">1-yr: 85%</text>
<text transform="translate(180.60,806.90) scale(1.0,1.1)" font-size="9.8" fill="#2e4a76" stroke="#2e4a76" stroke-width="0.25">1-yr: 38%</text>
<text transform="translate(180.40,861.20) scale(1.0,1.1)" font-size="9.8" fill="#52a452" stroke="#52a452" stroke-width="0.25">1-yr: 13%</text>
<text transform="translate(412.00,291.90) scale(1.0,1.1)" font-size="9.8" fill="#1a1a1a" stroke="#1a1a1a" stroke-width="0.25">Log-rank <tspan font-style="italic">P</tspan> &lt; .001</text>
<text transform="translate(412.50,699.40) scale(1.0,1.1)" font-size="9.8" fill="#1a1a1a" stroke="#1a1a1a" stroke-width="0.25">Log-rank <tspan font-style="italic">P</tspan> &lt; .001</text>
<rect x="0.5" y="0.5" width="519" height="1026" fill="none" stroke="#1a1a1a" stroke-width="1"/>
</svg>
</body></html>
